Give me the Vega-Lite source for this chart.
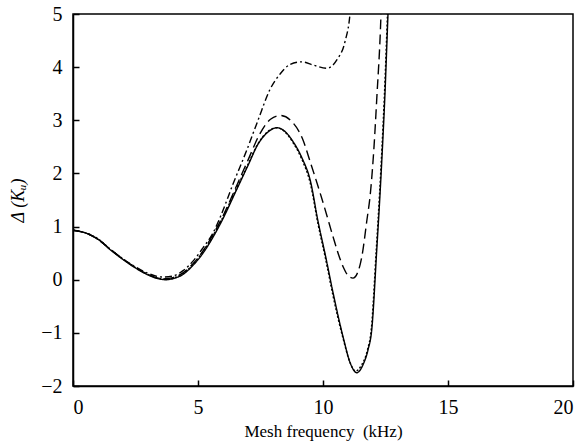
{
  "$schema": "https://vega.github.io/schema/vega-lite/v6.json",
  "width": 500,
  "height": 372,
  "autosize": "none",
  "padding": {"left": 73, "top": 14, "right": 13, "bottom": 62},
  "background": "white",
  "config": {
    "view": {"stroke": "black", "strokeWidth": 1.5},
    "font": "Liberation Serif",
    "axis": {
      "grid": false,
      "domainColor": "black",
      "domainWidth": 1.5,
      "tickColor": "black",
      "tickWidth": 1.5,
      "tickSize": -6,
      "labelFont": "Liberation Serif",
      "labelFontSize": 20,
      "labelColor": "black",
      "titleFont": "Liberation Serif",
      "titleFontSize": 17,
      "titleFontWeight": "normal",
      "titleColor": "black"
    }
  },
  "data": {
    "values": [
      {"s": "A", "x": 0, "y": 0.93}, {"s": "A", "x": 0.5, "y": 0.88}, {"s": "A", "x": 1, "y": 0.76}, {"s": "A", "x": 1.5, "y": 0.56},
      {"s": "A", "x": 2, "y": 0.38}, {"s": "A", "x": 2.5, "y": 0.22}, {"s": "A", "x": 3, "y": 0.09}, {"s": "A", "x": 3.4, "y": 0.02},
      {"s": "A", "x": 3.7, "y": 0.0}, {"s": "A", "x": 4, "y": 0.02}, {"s": "A", "x": 4.4, "y": 0.1}, {"s": "A", "x": 4.8, "y": 0.27},
      {"s": "A", "x": 5.2, "y": 0.5}, {"s": "A", "x": 5.6, "y": 0.8}, {"s": "A", "x": 6, "y": 1.15}, {"s": "A", "x": 6.5, "y": 1.65},
      {"s": "A", "x": 7, "y": 2.15}, {"s": "A", "x": 7.4, "y": 2.55}, {"s": "A", "x": 7.8, "y": 2.78}, {"s": "A", "x": 8.15, "y": 2.86},
      {"s": "A", "x": 8.5, "y": 2.78}, {"s": "A", "x": 8.8, "y": 2.6}, {"s": "A", "x": 9.15, "y": 2.3}, {"s": "A", "x": 9.5, "y": 1.85},
      {"s": "A", "x": 9.8, "y": 1.1}, {"s": "A", "x": 10.1, "y": 0.45}, {"s": "A", "x": 10.4, "y": -0.24}, {"s": "A", "x": 10.8, "y": -1.07},
      {"s": "A", "x": 11.1, "y": -1.58}, {"s": "A", "x": 11.35, "y": -1.75}, {"s": "A", "x": 11.6, "y": -1.6}, {"s": "A", "x": 11.8, "y": -1.32},
      {"s": "A", "x": 11.95, "y": -0.94}, {"s": "A", "x": 12.15, "y": 0.56}, {"s": "A", "x": 12.28, "y": 1.6}, {"s": "A", "x": 12.38, "y": 2.5},
      {"s": "A", "x": 12.47, "y": 3.4}, {"s": "A", "x": 12.6, "y": 5.0}, {"s": "A", "x": 12.65, "y": 5.6},

      {"s": "D", "x": 0, "y": 0.93}, {"s": "D", "x": 0.5, "y": 0.88}, {"s": "D", "x": 1, "y": 0.77}, {"s": "D", "x": 1.5, "y": 0.57},
      {"s": "D", "x": 2, "y": 0.39}, {"s": "D", "x": 2.5, "y": 0.23}, {"s": "D", "x": 3, "y": 0.1}, {"s": "D", "x": 3.4, "y": 0.03},
      {"s": "D", "x": 3.7, "y": 0.01}, {"s": "D", "x": 4, "y": 0.03}, {"s": "D", "x": 4.4, "y": 0.12}, {"s": "D", "x": 4.8, "y": 0.29},
      {"s": "D", "x": 5.2, "y": 0.53}, {"s": "D", "x": 5.6, "y": 0.83}, {"s": "D", "x": 6, "y": 1.18}, {"s": "D", "x": 6.5, "y": 1.68},
      {"s": "D", "x": 7, "y": 2.17}, {"s": "D", "x": 7.4, "y": 2.56}, {"s": "D", "x": 7.8, "y": 2.79}, {"s": "D", "x": 8.15, "y": 2.86},
      {"s": "D", "x": 8.5, "y": 2.77}, {"s": "D", "x": 8.8, "y": 2.58}, {"s": "D", "x": 9.15, "y": 2.27}, {"s": "D", "x": 9.5, "y": 1.8},
      {"s": "D", "x": 9.8, "y": 1.05}, {"s": "D", "x": 10.1, "y": 0.4}, {"s": "D", "x": 10.4, "y": -0.3}, {"s": "D", "x": 10.8, "y": -1.1},
      {"s": "D", "x": 11.1, "y": -1.58}, {"s": "D", "x": 11.3, "y": -1.72}, {"s": "D", "x": 11.55, "y": -1.6}, {"s": "D", "x": 11.78, "y": -1.32},
      {"s": "D", "x": 11.93, "y": -0.94}, {"s": "D", "x": 12.13, "y": 0.56}, {"s": "D", "x": 12.26, "y": 1.6}, {"s": "D", "x": 12.36, "y": 2.5},
      {"s": "D", "x": 12.45, "y": 3.4}, {"s": "D", "x": 12.58, "y": 5.0}, {"s": "D", "x": 12.63, "y": 5.6},

      {"s": "B", "x": 0, "y": 0.93}, {"s": "B", "x": 0.5, "y": 0.88}, {"s": "B", "x": 1, "y": 0.76}, {"s": "B", "x": 1.5, "y": 0.57},
      {"s": "B", "x": 2, "y": 0.39}, {"s": "B", "x": 2.5, "y": 0.23}, {"s": "B", "x": 3, "y": 0.1}, {"s": "B", "x": 3.4, "y": 0.03},
      {"s": "B", "x": 3.7, "y": 0.02}, {"s": "B", "x": 4, "y": 0.04}, {"s": "B", "x": 4.4, "y": 0.13}, {"s": "B", "x": 4.8, "y": 0.3},
      {"s": "B", "x": 5.2, "y": 0.54}, {"s": "B", "x": 5.6, "y": 0.85}, {"s": "B", "x": 6, "y": 1.2}, {"s": "B", "x": 6.5, "y": 1.72},
      {"s": "B", "x": 7, "y": 2.25}, {"s": "B", "x": 7.48, "y": 2.75}, {"s": "B", "x": 7.9, "y": 3.02}, {"s": "B", "x": 8.3, "y": 3.09},
      {"s": "B", "x": 8.7, "y": 3.0}, {"s": "B", "x": 9.2, "y": 2.63}, {"s": "B", "x": 9.5, "y": 2.2}, {"s": "B", "x": 9.88, "y": 1.64},
      {"s": "B", "x": 10.16, "y": 1.2}, {"s": "B", "x": 10.4, "y": 0.81}, {"s": "B", "x": 10.8, "y": 0.25}, {"s": "B", "x": 11.0, "y": 0.08},
      {"s": "B", "x": 11.2, "y": 0.03}, {"s": "B", "x": 11.4, "y": 0.15}, {"s": "B", "x": 11.56, "y": 0.45}, {"s": "B", "x": 11.75, "y": 1.1},
      {"s": "B", "x": 11.9, "y": 1.65}, {"s": "B", "x": 12.04, "y": 2.5}, {"s": "B", "x": 12.15, "y": 3.4}, {"s": "B", "x": 12.32, "y": 5.0},
      {"s": "B", "x": 12.36, "y": 5.6},

      {"s": "C", "x": 0, "y": 0.93}, {"s": "C", "x": 0.5, "y": 0.88}, {"s": "C", "x": 1, "y": 0.76}, {"s": "C", "x": 1.5, "y": 0.57},
      {"s": "C", "x": 2, "y": 0.39}, {"s": "C", "x": 2.5, "y": 0.24}, {"s": "C", "x": 3, "y": 0.12}, {"s": "C", "x": 3.6, "y": 0.05},
      {"s": "C", "x": 4, "y": 0.07}, {"s": "C", "x": 4.4, "y": 0.17}, {"s": "C", "x": 4.8, "y": 0.35}, {"s": "C", "x": 5.2, "y": 0.6},
      {"s": "C", "x": 5.6, "y": 0.88}, {"s": "C", "x": 5.9, "y": 1.19}, {"s": "C", "x": 6.4, "y": 1.8}, {"s": "C", "x": 6.96, "y": 2.45},
      {"s": "C", "x": 7.4, "y": 3.0}, {"s": "C", "x": 7.88, "y": 3.58}, {"s": "C", "x": 8.3, "y": 3.88}, {"s": "C", "x": 8.68, "y": 4.05},
      {"s": "C", "x": 9.16, "y": 4.1}, {"s": "C", "x": 9.6, "y": 4.04}, {"s": "C", "x": 10.16, "y": 3.98}, {"s": "C", "x": 10.56, "y": 4.14},
      {"s": "C", "x": 10.88, "y": 4.48}, {"s": "C", "x": 11.08, "y": 5.0}, {"s": "C", "x": 11.15, "y": 5.4}
    ]
  },
  "mark": {"type": "line", "clip": true, "interpolate": "monotone", "color": "black", "strokeWidth": 1.4},
  "encoding": {
    "x": {
      "field": "x", "type": "quantitative",
      "scale": {"domain": [0, 20], "nice": false},
      "axis": {"values": [0, 5, 10, 15, 20], "title": "Mesh frequency\u00a0\u00a0(kHz)", "titlePadding": 6, "labelPadding": 17}
    },
    "y": {
      "field": "y", "type": "quantitative",
      "scale": {"domain": [-2, 5], "nice": false},
      "axis": {"values": [-2, -1, 0, 1, 2, 3, 4, 5], "title": "Δ (Kᵤ)", "titleFontStyle": "italic", "titleFontSize": 18, "titlePadding": 13, "labelPadding": 17}
    },
    "detail": {"field": "s", "type": "nominal"},
    "strokeDash": {
      "field": "s", "type": "nominal", "legend": null,
      "scale": {"domain": ["A", "B", "C", "D"], "range": [[1, 0], [10, 5], [7, 3, 2, 3], [2, 2]]}
    },
    "strokeWidth": {
      "field": "s", "type": "nominal", "legend": null,
      "scale": {"domain": ["A", "B", "C", "D"], "range": [1.6, 1.4, 1.4, 1]}
    }
  }
}
